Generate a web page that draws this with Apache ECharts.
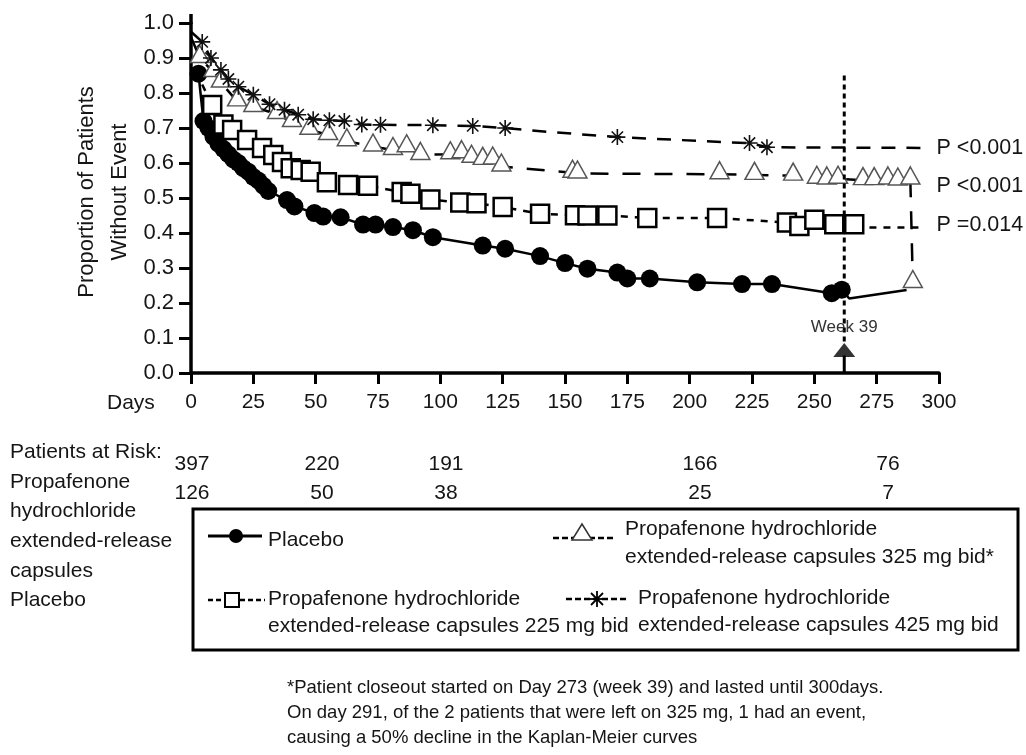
<!DOCTYPE html>
<html><head><meta charset="utf-8">
<script src="https://cdn.jsdelivr.net/npm/echarts@6/dist/echarts.min.js"></script>
<style>html,body{margin:0;padding:0;background:#fff}#c{width:1026px;height:755px}</style>
</head><body><div id="c"></div>
<script>
// ---------- data ----------
const xTicks = [0, 25, 50, 75, 100, 125, 150, 175, 200, 225, 250, 275, 300];
const yTickLabels = ['0.0','0.1','0.2','0.3','0.4','0.5','0.6','0.7','0.8','0.9','1.0'];
// [day, proportion without event, marker shown (1) / line vertex only (0)]
const placebo = [
 [3,0.855,1],[5,0.72,1],[7,0.70,1],[9,0.675,1],[11,0.655,1],[13,0.64,1],[15,0.625,1],[17,0.61,1],
 [19,0.60,1],[21,0.585,1],[23,0.575,1],[25,0.56,1],[27,0.55,1],[29,0.535,1],[31,0.52,1],[38.5,0.494,1],
 [41.5,0.476,1],[49.5,0.457,1],[53,0.447,1],[60,0.445,1],[69,0.424,1],[74,0.424,1],[81,0.417,1],
 [89,0.408,1],[97,0.388,1],[117,0.364,1],[126,0.355,1],[140,0.334,1],[150,0.314,1],[159,0.298,1],
 [171,0.287,1],[175,0.27,1],[184,0.27,1],[203,0.259,1],[221,0.254,1],[233,0.254,1],[257,0.228,1],
 [261,0.238,1],[264,0.213,0],[287,0.237,0]
];
const mg225 = [
 [2,0.86,0],[8.5,0.766,1],[13,0.71,1],[16.5,0.694,1],[22.5,0.666,1],[28.5,0.643,1],[33,0.623,1],
 [36.5,0.603,1],[40,0.585,1],[44,0.58,1],[48,0.575,1],[54.5,0.545,1],[63,0.537,1],[71,0.535,1],
 [84.5,0.517,1],[88,0.512,1],[96,0.496,1],[108,0.487,1],[114.5,0.485,1],[125,0.474,1],[140,0.455,1],
 [154,0.451,1],[159,0.45,1],[167,0.45,1],[183,0.443,1],[211,0.443,1],[239,0.43,1],[244,0.42,1],
 [250,0.438,1],[258,0.425,1],[266,0.425,1],[268,0.416,0],[292,0.416,0]
];
const mg325 = [
 [0,0.96,0],[3.5,0.9,1],[9,0.86,1],[12,0.83,1],[18.5,0.776,1],[25,0.76,1],[34.5,0.74,1],[40.5,0.717,1],
 [47.5,0.695,1],[55,0.68,1],[62.5,0.662,1],[73,0.647,1],[81,0.637,1],[86.5,0.645,1],[92,0.623,1],
 [104,0.625,1],[108.5,0.628,1],[112.5,0.615,1],[117,0.609,1],[121,0.61,1],[124.5,0.59,1],[153,0.572,1],
 [155,0.57,1],[212,0.568,1],[226,0.566,1],[241.5,0.564,1],[251,0.555,1],[255,0.553,1],[259.5,0.555,1],
 [269.5,0.551,1],[274,0.551,1],[279.5,0.553,1],[283.5,0.55,1],[288.5,0.553,1],[289.5,0.257,1]
];
const mg425 = [
 [0,0.975,0],[4.5,0.946,1],[8,0.9,1],[12,0.866,1],[15,0.84,1],[19,0.818,1],[25,0.795,1],[31.5,0.768,1],
 [37.5,0.752,1],[43,0.738,1],[49,0.725,1],[55.5,0.722,1],[61.5,0.72,1],[68.5,0.71,1],[76,0.709,1],
 [97,0.708,1],[113,0.706,1],[126,0.7,1],[145,0.688,0],[171,0.674,1],[216,0.659,0],[224,0.657,1],
 [231,0.645,1],[294,0.643,0]
];
const weekDay = 262;
const weekLine = [[weekDay,0.85],[weekDay,0.09]];
const arrowStem = [[weekDay,0],[weekDay,0.05]];
const arrowHead = [[weekDay,0.066]];
const pLabels = ['P <0.001','P <0.001','P =0.014'];
const pLabelY = [0.643, 0.534, 0.423];
const riskRowPropafenone = ['397','220','191','166','76'];
const riskRowPlacebo = ['126','50','38','25','7'];
const riskHeader = ['Patients at Risk:','Propafenone','hydrochloride','extended-release','capsules','Placebo'];
const legendNames = ['Placebo',
  'Propafenone hydrochloride\nextended-release capsules 325 mg bid*',
  'Propafenone hydrochloride\nextended-release capsules 225 mg bid',
  'Propafenone hydrochloride\nextended-release capsules 425 mg bid'];
const footnote = ['*Patient closeout started on Day 273 (week 39) and lasted until 300days.',
  'On day 291, of the 2 patients that were left on 325 mg, 1 had an event,',
  'causing a 50% decline in the Kaplan-Meier curves'];

// ---------- chart ----------
const FONT = '"Liberation Sans", Arial, sans-serif';
const TXT = '#151515';
const ASTERISK = 'path://M9,0h2v20h-2z M0,9h20v2h-20z M3.636,2.222L17.778,16.364L16.364,17.778L2.222,3.636z M2.222,16.364L16.364,2.222L17.778,3.636L3.636,17.778z';

function toData(arr){
  return arr.map(p => p[2] ? {value:[p[0],p[1]]} : {value:[p[0],p[1]], symbol:'none'});
}
const chart = echarts.init(document.getElementById('c'), null, {renderer:'canvas'});
const option = {
  backgroundColor:'#fff',
  animation:false,
  grid:{left:191, top:23, width:748, height:350},
  xAxis:{type:'value', min:0, max:300, interval:25,
    axisLine:{lineStyle:{color:'#000', width:3.5}},
    axisTick:{length:11, lineStyle:{color:'#000', width:3}},
    axisLabel:{fontSize:21, fontFamily:FONT, color:TXT, margin:19,
      formatter:v => xTicks.indexOf(v) >= 0 ? String(v) : ''},
    splitLine:{show:false}},
  yAxis:{type:'value', min:0, max:1, interval:0.1,
    axisLine:{show:true, lineStyle:{color:'#000', width:3.5}},
    axisTick:{show:true, length:12, lineStyle:{color:'#000', width:3}},
    axisLabel:{fontSize:22, fontFamily:FONT, color:TXT, margin:17,
      formatter:v => yTickLabels[Math.round(v*10)]},
    splitLine:{show:false}},
  series:[
    {name:'Placebo', type:'line', data:toData(placebo), showAllSymbol:true,
      symbol:'circle', symbolSize:18, itemStyle:{color:'#000'},
      lineStyle:{color:'#000', width:2.5}, z:2},
    {name:'225', type:'line', data:toData(mg225), showAllSymbol:true,
      symbol:'rect', symbolSize:18, itemStyle:{color:'#fff', borderColor:'#000', borderWidth:2.5},
      lineStyle:{color:'#000', width:2.5, type:[7,7]}, z:3},
    {name:'325', type:'line', data:toData(mg325), showAllSymbol:true,
      symbol:'triangle', symbolSize:[19,17], symbolOffset:[0,-4],
      itemStyle:{color:'#fff', borderColor:'#555', borderWidth:1.5},
      lineStyle:{color:'#000', width:2.5, type:[18,14]}, z:4},
    {name:'425', type:'line', data:toData(mg425), showAllSymbol:true,
      symbol:ASTERISK, symbolSize:16, itemStyle:{color:'#111'},
      lineStyle:{color:'#000', width:2.5, type:[14,11]}, z:5},
    {name:'week39', type:'line', data:weekLine, symbol:'none',
      lineStyle:{color:'#000', width:3, type:[5,4]}, z:6},
    {name:'arrowStem', type:'line', data:arrowStem, symbol:'none',
      lineStyle:{color:'#000', width:3}, z:6},
    {name:'arrowHead', type:'scatter', data:arrowHead, symbol:'triangle', symbolSize:[22,14],
      itemStyle:{color:'#000'}, z:6}
  ]
};
chart.setOption(option);

// ---------- annotations ----------
const g = [];
function txt(x, y, s, size, opts){
  opts = opts || {};
  g.push({type:'text', x:x, y:y, rotation:opts.rotation||0, z:20,
    style:{text:s, font:(size)+'px '+FONT, fill:opts.color||TXT,
      align:opts.align||'left', verticalAlign:'middle',
      textAlign:opts.align||'left', textVerticalAlign:'middle', lineHeight:opts.lh||size*1.2}});
}
function line(x1,y1,x2,y2,w,dash){
  g.push({type:'line', z:21, shape:{x1:x1,y1:y1,x2:x2,y2:y2},
    style:{stroke:'#000', lineWidth:w, lineDash:dash||null}});
}
// axis top extension
line(191, 14, 191, 24, 3.5);
// axis title
txt(103, 192, 'Proportion of Patients\nWithout Event', 22, {align:'center', rotation:Math.PI/2, lh:33});
// Days label
txt(107, 403, 'Days', 21);
// P labels at the right end of curves
pLabels.forEach((s,i) => {
  const p = chart.convertToPixel({gridIndex:0}, [299, pLabelY[i]]);
  txt(p[0], p[1], s, 21.5);
});
// Week 39
{
  const p = chart.convertToPixel({gridIndex:0}, [weekDay, 0.13]);
  txt(p[0], p[1], 'Week 39', 17, {align:'center', color:'#333'});
}
// patients at risk
const riskHeaderY = [452, 482, 511, 541, 571, 600];
riskHeader.forEach((s,i) => txt(10, riskHeaderY[i], s, 21));
const riskX = [192, 322, 446, 700, 888];
riskRowPropafenone.forEach((s,i) => txt(riskX[i], 464, s, 21, {align:'center'}));
riskRowPlacebo.forEach((s,i) => txt(riskX[i], 493, s, 21, {align:'center'}));
// legend box
g.push({type:'rect', z:19, shape:{x:193, y:509, width:825, height:141},
  style:{fill:'#fff', stroke:'#000', lineWidth:3}});
// placebo entry
line(208, 536, 262, 536, 3);
g.push({type:'circle', z:22, shape:{cx:236, cy:536, r:7}, style:{fill:'#000'}});
txt(268, 540, legendNames[0], 21);
// 325 entry
line(553, 538, 615, 538, 2.5, [6,3]);
g.push({type:'polygon', z:22, shape:{points:[[582,524],[572,540],[592,540]]},
  style:{fill:'#fff', stroke:'#333', lineWidth:1.5}});
txt(625, 543, legendNames[1], 21, {lh:28});
// 225 entry
line(208, 600, 265, 600, 2.5, [5,3]);
g.push({type:'rect', z:22, shape:{x:225, y:593, width:14, height:14},
  style:{fill:'#fff', stroke:'#000', lineWidth:2}});
txt(268, 613, legendNames[2], 21, {lh:27});
// 425 entry
line(566, 599, 628, 599, 2.5, [6,3]);
[[0,-8,0,8],[-8,0,8,0],[-6,-6,6,6],[-6,6,6,-6]].forEach(s => {
  g.push({type:'line', z:22, shape:{x1:597+s[0], y1:599+s[1], x2:597+s[2], y2:599+s[3]},
    style:{stroke:'#000', lineWidth:1.8}});
});
txt(638, 612, legendNames[3], 21, {lh:27});
// footnote
footnote.forEach((s,i) => txt(287, 688 + i*25, s, 18.5));

chart.setOption({graphic:{elements:g}});
</script></body></html>
